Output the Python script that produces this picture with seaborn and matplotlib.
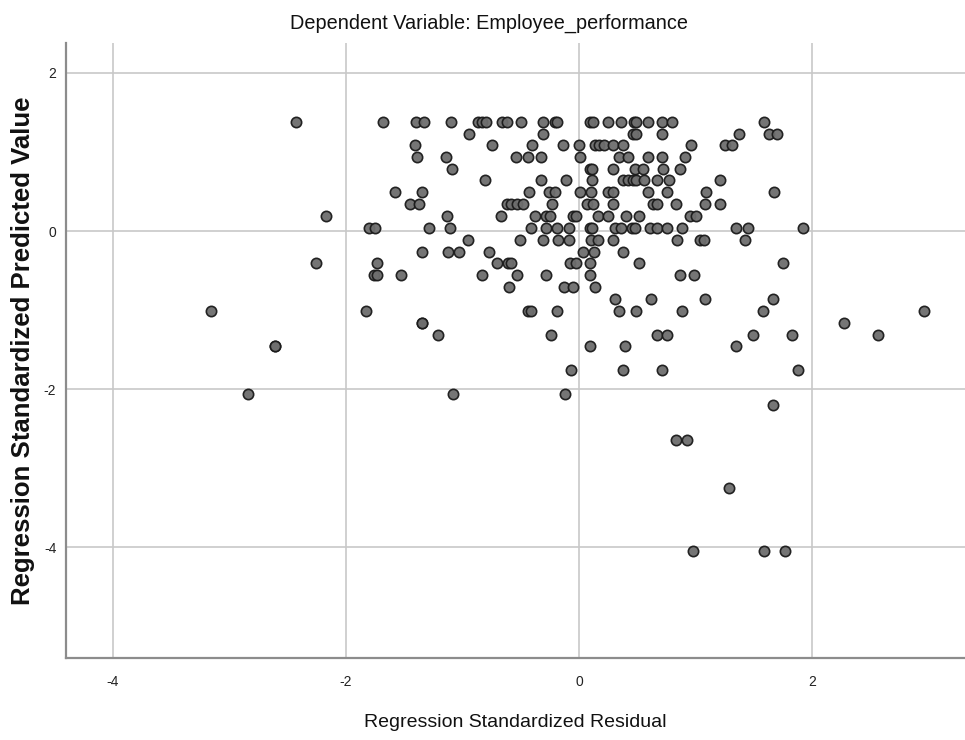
import numpy as np
import pandas as pd
import matplotlib
matplotlib.use('Agg')
import matplotlib.pyplot as plt
import seaborn as sns

# predicted value levels (rows) and the residuals found on each row
pred_levels = [1.38, 1.23, 1.09, 0.94, 0.79, 0.64, 0.49, 0.34, 0.19, 0.04,
               -0.11, -0.26, -0.41, -0.56, -0.71, -0.86, -1.01, -1.16, -1.31,
               -1.46, -1.76, -2.06, -2.20, -2.65, -3.25, -4.05]

resid_138 = [-2.43, -1.68, -1.40, -1.33, -1.10, -0.87, -0.83, -0.80, -0.66, -0.62,
             -0.50, -0.31, -0.21, -0.19, 0.09, 0.12, 0.25, 0.36, 0.47, 0.49,
             0.59, 0.71, 0.80, 1.59]
resid_123 = [-0.94, -0.31, 0.46, 0.49, 0.71, 1.37, 1.63, 1.70]
resid_109 = [-1.41, -0.75, -0.40, -0.14, 0.00, 0.14, 0.17, 0.21, 0.29, 0.38,
             0.96, 1.25, 1.31]
resid_094 = [-1.39, -1.14, -0.54, -0.44, -0.33, 0.01, 0.34, 0.42, 0.59, 0.71, 0.91]
resid_079 = [-1.09, 0.09, 0.11, 0.29, 0.48, 0.55, 0.72, 0.87]
resid_064 = [-0.81, -0.33, -0.11, 0.11, 0.38, 0.42, 0.46, 0.49, 0.56, 0.67, 0.77, 1.21]
resid_049 = [-1.58, -1.35, -0.43, -0.26, -0.21, 0.01, 0.10, 0.25, 0.29, 0.59,
             0.75, 1.09, 1.67]
resid_034 = [-1.45, -1.37, -0.62, -0.58, -0.53, -0.48, -0.23, 0.07, 0.12, 0.29,
             0.63, 0.67, 0.83, 1.08, 1.21]
resid_019 = [-2.17, -1.13, -0.67, -0.38, -0.28, -0.25, -0.05, -0.03, 0.16, 0.25,
             0.40, 0.51, 0.95, 1.00]
resid_004 = [-1.80, -1.75, -1.29, -1.11, -0.41, -0.28, -0.19, -0.09, 0.09, 0.11,
             0.31, 0.36, 0.45, 0.48, 0.61, 0.67, 0.75, 0.88, 1.35, 1.45, 1.92]
resid_m011 = [-0.95, -0.51, -0.31, -0.18, -0.09, 0.10, 0.16, 0.29, 0.84, 1.04, 1.07, 1.42]
resid_m026 = [-1.35, -1.12, -1.03, -0.77, 0.03, 0.13, 0.38]
resid_m041 = [-2.26, -1.73, -0.70, -0.61, -0.58, -0.08, -0.03, 0.09, 0.51, 1.75]
resid_m056 = [-1.76, -1.73, -1.53, -0.83, -0.53, -0.28, 0.09, 0.87, 0.99]
resid_m071 = [-0.60, -0.13, -0.05, 0.14]
resid_m086 = [0.31, 0.62, 1.08, 1.66]
resid_m101 = [-3.16, -1.83, -0.44, -0.41, -0.19, 0.34, 0.49, 0.88, 1.58, 2.96]
resid_m116 = [-1.35, -1.35, 2.27]
resid_m131 = [-1.21, -0.24, 0.67, 0.75, 1.49, 1.83, 2.56]
resid_m146 = [-2.61, -2.61, 0.09, 0.39, 1.35]
resid_m176 = [-0.07, 0.38, 0.71, 1.88]
resid_m206 = [-2.84, -1.08, -0.12]
resid_m220 = [1.66]
resid_m265 = [0.83, 0.93]
resid_m325 = [1.29]
resid_m405 = [0.98, 1.59, 1.77]

resid_rows = [resid_138, resid_123, resid_109, resid_094, resid_079, resid_064,
              resid_049, resid_034, resid_019, resid_004, resid_m011, resid_m026,
              resid_m041, resid_m056, resid_m071, resid_m086, resid_m101, resid_m116,
              resid_m131, resid_m146, resid_m176, resid_m206, resid_m220, resid_m265,
              resid_m325, resid_m405]

x_ticks = [-4, -2, 0, 2]
y_ticks = [-4, -2, 0, 2]

rows = []
for level, resids in zip(pred_levels, resid_rows):
    for r in resids:
        rows.append({'residual': r, 'predicted': level})
df = pd.DataFrame(rows)

sns.set_style('white')
plt.rcParams['font.family'] = ['Liberation Sans', 'DejaVu Sans']

fig = plt.figure(figsize=(9.65, 7.4), dpi=100)
ax = fig.add_axes([0.0684, 0.111, 0.9316, 0.831])

sns.scatterplot(data=df, x='residual', y='predicted', ax=ax, s=55,
                color='#6e6e6e', edgecolor='#1a1a1a', linewidth=1.2,
                alpha=0.95, zorder=3)

ax.set_xlim(-4.40, 3.31)
ax.set_ylim(-5.40, 2.38)
ax.set_xticks(x_ticks)
ax.set_yticks(y_ticks)
ax.set_xticklabels([str(t) for t in x_ticks])
ax.set_yticklabels([str(t) for t in y_ticks])
ax.grid(True, color='#c8c8c8', linewidth=1.2, zorder=0)
ax.set_axisbelow(True)

for side in ['top', 'right']:
    ax.spines[side].set_visible(False)
for side in ['left', 'bottom']:
    ax.spines[side].set_color('#8c8c8c')
    ax.spines[side].set_linewidth(1.6)

ax.tick_params(axis='x', length=0, pad=12, labelsize=10, labelcolor='#222222')
ax.tick_params(axis='y', length=0, pad=7, labelsize=10, labelcolor='#222222')

ax.set_xlabel('Regression Standardized Residual', fontsize=14, labelpad=18,
              color='#111111')
ax.set_ylabel('Regression Standardized Predicted Value', fontsize=18.5,
              fontweight='bold', labelpad=6, color='#111111')
fig.text(0.507, 0.968, 'Dependent Variable: Employee_performance', fontsize=14.3,
         ha='center', va='center', color='#111111')

fig.savefig('out.png', dpi=100)
